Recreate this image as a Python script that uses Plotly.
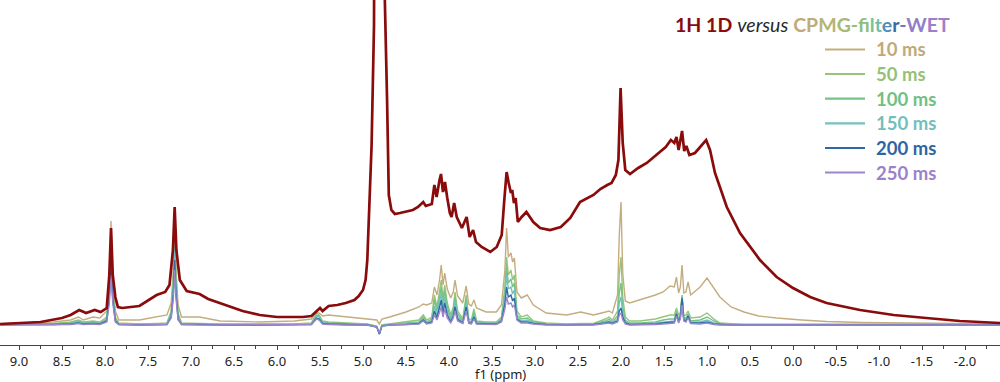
import plotly.graph_objects as go

# ---------------- data ----------------
ppm_1h = [
    9.22, 9.0, 8.75, 8.5, 8.4, 8.30, 8.22, 8.12, 8.05, 7.98,
    7.95, 7.93, 7.91, 7.88, 7.85, 7.8, 7.6, 7.4, 7.3, 7.25,
    7.21, 7.19, 7.17, 7.13, 7.05, 6.9, 6.8, 6.6, 6.4, 6.2,
    6.0, 5.7, 5.6, 5.55, 5.5, 5.47, 5.4, 5.3, 5.2, 5.1,
    5.05, 5.0, 4.97, 4.95, 4.93, 4.90, 4.872, 4.84, 4.80, 4.77,
    4.75, 4.72, 4.70, 4.67, 4.63, 4.57, 4.42, 4.36, 4.30, 4.27,
    4.20, 4.17, 4.144, 4.11, 4.093, 4.07, 4.047, 4.02, 3.99, 3.97,
    3.94, 3.91, 3.85, 3.795, 3.76, 3.72, 3.686, 3.62, 3.52, 3.445,
    3.387, 3.357, 3.33, 3.306, 3.28, 3.265, 3.245, 3.225, 3.20, 3.155,
    3.10, 3.02, 2.94, 2.825, 2.7, 2.59, 2.477, 2.32, 2.24, 2.16,
    2.11, 2.06, 2.03, 2.005, 1.98, 1.95, 1.895, 1.80, 1.70, 1.59,
    1.48, 1.42, 1.38, 1.355, 1.33, 1.29, 1.265, 1.24, 1.205, 1.14,
    1.075, 1.01, 0.965, 0.907, 0.85, 0.77, 0.616, 0.384, 0.19, 0.0,
    -0.20, -0.39, -0.78, -1.17, -1.55, -1.94, -2.41]

int_1h = [
    1, 2, 3, 7, 10, 15, 12, 15, 13, 17,
    50, 97, 50, 28, 18, 17, 19, 30, 33, 40,
    75, 118, 75, 45, 34, 31, 26, 20, 14, 10,
    8, 8, 9, 13, 17, 14, 19, 20, 22, 25,
    29, 35, 45, 65, 110, 180, 300, 800, 2500, 800,
    340, 225, 130, 115, 111, 112, 115, 118, 123, 119,
    121, 140, 128, 145, 151, 133, 143, 127, 112, 108,
    122, 108, 97, 108, 88, 95, 83, 78, 73, 78,
    90, 125, 153, 142, 132, 135, 122, 127, 103, 108,
    113, 103, 97, 95, 98, 107, 123, 130, 136, 140,
    142, 150, 165, 237, 182, 155, 151, 157, 162, 170,
    178, 185, 182, 188, 175, 194, 174, 179, 170, 172,
    178, 185, 175, 152, 138, 118, 92, 65, 48, 37,
    28, 22, 15, 10, 7, 4, 2]

ppm_cpmg = [
    9.22, 9.0, 8.6, 8.4, 8.31, 8.25, 8.14, 8.06, 7.98, 7.95,
    7.93, 7.91, 7.88, 7.84, 7.6, 7.4, 7.28, 7.23, 7.205, 7.19,
    7.175, 7.15, 7.11, 6.9, 6.66, 6.2, 5.8, 5.6, 5.54, 5.51,
    5.47, 5.4, 5.2, 4.95, 4.84, 4.81, 4.78, 4.69, 4.5, 4.35,
    4.30, 4.26, 4.20, 4.17, 4.14, 4.11, 4.09, 4.07, 4.05, 4.02,
    3.98, 3.95, 3.93, 3.90, 3.84, 3.80, 3.77, 3.74, 3.71, 3.68,
    3.57, 3.45, 3.39, 3.35, 3.33, 3.31, 3.28, 3.26, 3.24, 3.21,
    3.16, 3.09, 3.02, 2.87, 2.63, 2.47, 2.32, 2.18, 2.14, 2.10,
    2.04, 2.02, 2.00, 1.98, 1.95, 1.90, 1.78, 1.6, 1.51, 1.43,
    1.38, 1.355, 1.33, 1.31, 1.29, 1.27, 1.245, 1.22, 1.19, 1.08,
    1.0, 0.92, 0.85, 0.72, 0.57, 0.4, 0.19, -0.1, -0.39, -0.8,
    -1.17, -1.6, -2.0, -2.41]

int_10ms = [
    1, 2, 3, 5, 8, 5, 8, 7, 14, 45,
    104, 45, 14, 5, 5, 8, 10, 22, 55, 110,
    55, 20, 8, 8, 4, 3, 4, 6, 13, 12,
    9, 10, 8, 6, 5, 1, 6, 8, 13, 18,
    21, 20, 22, 38, 30, 45, 60, 40, 52, 36,
    27, 33, 45, 29, 22, 39, 21, 19, 25, 17,
    13, 13, 20, 55, 97, 68, 72, 63, 67, 33,
    27, 30, 20, 12, 10, 13, 10, 13, 14, 12,
    30, 90, 123, 52, 24, 22, 25, 30, 33, 39,
    38, 48, 32, 38, 60, 32, 33, 43, 30, 38,
    47, 37, 28, 18, 13, 9, 7, 5, 3.5, 2.5,
    2, 1.5, 1, 1]

int_50ms = [
    0.5, 1, 1.5, 3, 5, 3, 4, 3, 8, 40,
    90, 40, 8, 2, 1, 1.5, 2, 14, 48, 98,
    48, 12, 2, 1.5, 1, 1, 1, 2, 12, 10,
    4, 3, 2, 1, -1, -8, 0, 1, 3, 5,
    10, 5, 8, 30, 18, 33, 45, 25, 40, 22,
    10, 18, 33, 14, 6, 30, 6, 5, 16, 4,
    3, 3, 8, 38, 68, 50, 55, 45, 50, 14,
    8, 10, 4, 2, 1, 1.5, 1.5, 6, 8, 5,
    14, 50, 68, 28, 8, 4, 4, 6, 8, 10,
    10, 17, 10, 12, 28, 9, 10, 14, 7, 8,
    12, 6, 2, 1, 0.5, 0.5, 0.5, 0.5, 0.5, 0.5,
    0.5, 0.5, 0.5, 0.5]

int_100ms = [
    0.5, 1, 1, 2, 4, 2, 3, 2, 6, 35,
    80, 35, 6, 1.5, 0.5, 1, 1.5, 12, 43, 88,
    43, 10, 1.5, 1, 0.5, 0.5, 0.5, 1.5, 10, 9,
    3, 2, 1, 0.5, -1.5, -9, -0.5, 0.5, 2, 3,
    8, 3, 6, 25, 14, 28, 38, 20, 34, 18,
    7, 15, 28, 11, 4, 26, 4, 3, 13, 3,
    2, 2, 6, 32, 58, 42, 46, 38, 42, 10,
    6, 7, 3, 1, 0.5, 1, 1, 4, 6, 3,
    9, 32, 42, 18, 5, 2, 2, 3, 5, 6,
    6, 14, 6, 10, 30, 7, 7, 11, 4, 5,
    8, 4, 1, 0.5, 0.5, 0.5, 0.5, 0.5, 0.5, 0.5,
    0.5, 0.5, 0.5, 0.5]

int_150ms = [
    0.5, 0.5, 0.5, 1.5, 3, 1.5, 2, 1.5, 5, 30,
    68, 30, 5, 1, 0.5, 0.5, 1, 10, 37, 75,
    37, 8, 1, 0.5, 0.5, 0.5, 0.5, 1, 9, 8,
    2, 1.5, 0.5, 0.5, -2, -9, -1, 0.5, 1, 2,
    6, 2, 4, 19, 10, 22, 32, 15, 28, 14,
    5, 12, 23, 8, 3, 22, 3, 2, 10, 2,
    1.5, 1.5, 5, 27, 50, 36, 38, 31, 35, 8,
    4, 5, 2, 1, 0.5, 0.5, 0.5, 3, 4, 2,
    6, 22, 28, 12, 3, 1, 1, 2, 3, 4,
    4, 12, 4, 9, 28, 6, 5, 10, 3, 3,
    5, 2, 0.5, 0.5, 0.5, 0.5, 0.5, 0.5, 0.5, 0.5,
    0.5, 0.5, 0.5, 0.5]

int_200ms = [
    0, 0.5, 0.5, 1, 2, 1, 1.5, 1, 4, 26,
    60, 26, 4, 0.5, 0, 0.5, 0.5, 8, 32, 65,
    32, 6, 0.5, 0.5, 0, 0, 0.5, 0.5, 7, 6,
    1.5, 1, 0.5, 0, -2, -9, -1, 0, 0.5, 1.5,
    5, 1.5, 3, 14, 7, 17, 25, 11, 22, 10,
    3, 9, 18, 6, 2, 18, 2, 1.5, 8, 1.5,
    1, 1, 4, 21, 38, 28, 30, 24, 27, 6,
    3, 3, 1.5, 0.5, 0, 0.5, 0.5, 2, 3, 1.5,
    4, 14, 17, 8, 2, 0.5, 0.5, 1, 2, 2.5,
    3, 11, 3, 8, 27, 5, 4, 9, 2, 2,
    3, 1, 0.5, 0, 0, 0, 0, 0, 0, 0,
    0, 0, 0, 0]

int_250ms = [
    0, 0, 0.5, 0.5, 1.5, 0.5, 1, 0.5, 3, 22,
    50, 22, 3, 0.5, 0, 0, 0.5, 7, 27, 55,
    27, 5, 0.5, 0, 0, 0, 0, 0.5, 6, 5,
    1, 0.5, 0, 0, -2, -8, -1, 0, 0.5, 1,
    4, 1, 2, 10, 5, 12, 18, 8, 16, 7,
    2, 7, 14, 4, 1.5, 14, 1.5, 1, 6, 1,
    0.5, 0.5, 3, 16, 28, 21, 22, 18, 20, 5,
    2, 2, 1, 0, 0, 0, 0, 1.5, 2, 1,
    3, 10, 12, 5, 1, 0, 0, 0.5, 1, 1.5,
    2, 9, 2, 6, 20, 4, 3, 7, 1.5, 1,
    2, 0.5, 0, 0, 0, 0, 0, 0, 0, 0,
    0, 0, 0, 0]

series_labels = ["10 ms", "50 ms", "100 ms", "150 ms", "200 ms", "250 ms"]
series_values = [int_10ms, int_50ms, int_100ms, int_150ms, int_200ms, int_250ms]

tick_vals = [9.0, 8.5, 8.0, 7.5, 7.0, 6.5, 6.0, 5.5, 5.0, 4.5, 4.0, 3.5, 3.0,
             2.5, 2.0, 1.5, 1.0, 0.5, 0.0, -0.5, -1.0, -1.5, -2.0]
tick_text = ["9.0", "8.5", "8.0", "7.5", "7.0", "6.5", "6.0", "5.5", "5.0", "4.5",
             "4.0", "3.5", "3.0", "2.5", "2.0", "1.5", "1.0", "0.5", "0.0", "-0.5",
             "-1.0", "-1.5", "-2.0"]

assert len(ppm_1h) == len(int_1h)
for s in series_values:
    assert len(s) == len(ppm_cpmg)

# ---------------- styles ----------------
W, H = 1000, 382
M_B = 37
PLOT_H = H - M_B
series_colors = ["#c3ad7f", "#97c47b", "#74c388", "#72c2bf", "#2f68a2", "#9c85cd"]
label_colors = ["#c0a978", "#94c178", "#70c084", "#70bfbd", "#2e65a0", "#9a82cb"]
red = "#8a0b0b"

fig = go.Figure()
for name, vals, col in zip(series_labels, series_values, series_colors):
    fig.add_trace(go.Scatter(x=ppm_cpmg, y=vals, mode="lines", name=name,
                             line=dict(color=col, width=1.4), showlegend=False))
fig.add_trace(go.Scatter(x=ppm_1h, y=int_1h, mode="lines", name="1H 1D",
                         line=dict(color=red, width=2.7), showlegend=False))

def py(ypx):
    return (PLOT_H - ypx) / PLOT_H

# legend (manual)
row_y = [49.5, 74, 98.7, 123.3, 148, 172.5]
for lab, col, lcol, ry in zip(series_labels, series_colors, label_colors, row_y):
    fig.add_shape(type="line", xref="paper", yref="paper",
                  x0=0.825, x1=0.865, y0=py(ry), y1=py(ry),
                  line=dict(color=col, width=2.2))
    fig.add_annotation(xref="paper", yref="paper", x=0.874, y=py(ry),
                       xanchor="left", yanchor="middle", showarrow=False,
                       text="<b>%s</b>" % lab,
                       font=dict(family="Lato", size=18.5, color=lcol))

title_chars = [("C", "#c1aa7a"), ("P", "#bead77"), ("M", "#b4b575"), ("G", "#a6b975"),
               ("-", "#98bd76"), ("f", "#8cc07a"), ("i", "#82c282"), ("l", "#78c38d"),
               ("t", "#6fbfae"), ("e", "#4f8fbd"), ("r", "#3a6aa6"), ("-", "#6f78ba"),
               ("W", "#8f80c6"), ("E", "#9a80c9"), ("T", "#9c81ca")]
title_html = ("<b><span style='color:%s'>1H 1D</span></b> "
              "<i><span style='color:#2a2a2a'>versus</span></i> " % red)
title_html += "<b>" + "".join("<span style='color:%s'>%s</span>" % (c, ch)
                              for ch, c in title_chars) + "</b>"
fig.add_annotation(xref="paper", yref="paper", x=0.952, y=py(24),
                   xanchor="right", yanchor="middle", showarrow=False,
                   text=title_html, font=dict(family="Lato", size=19.5, color="#333"))

# axis title
fig.add_annotation(xref="paper", yref="paper", x=0.5, y=py(374),
                   xanchor="center", yanchor="middle", showarrow=False,
                   borderpad=0,
                   text="f1 (ppm)", font=dict(family="Noto Sans", size=13, color="#222"))

fig.update_layout(
    width=W, height=H,
    margin=dict(l=0, r=0, t=0, b=M_B),
    paper_bgcolor="white", plot_bgcolor="white",
    showlegend=False,
    xaxis=dict(range=[9.221, -2.407], showgrid=False, zeroline=False,
               showline=True, linecolor="#444", linewidth=1,
               ticks="outside", ticklen=4, tickcolor="#444", tickwidth=1,
               tickvals=tick_vals, ticktext=tick_text,
               tickfont=dict(family="Noto Sans", size=13, color="#222"),
               minor=dict(ticks="outside", ticklen=2.5, tickcolor="#444",
                          dtick=0.25, tick0=0, showgrid=False)),
    yaxis=dict(range=[-20, 325], visible=False, showgrid=False, zeroline=False),
)

fig.write_html("out.html",
               config={"displayModeBar": False},
               post_script="document.body.style.margin='0';"
                           "document.body.style.overflow='hidden';")
